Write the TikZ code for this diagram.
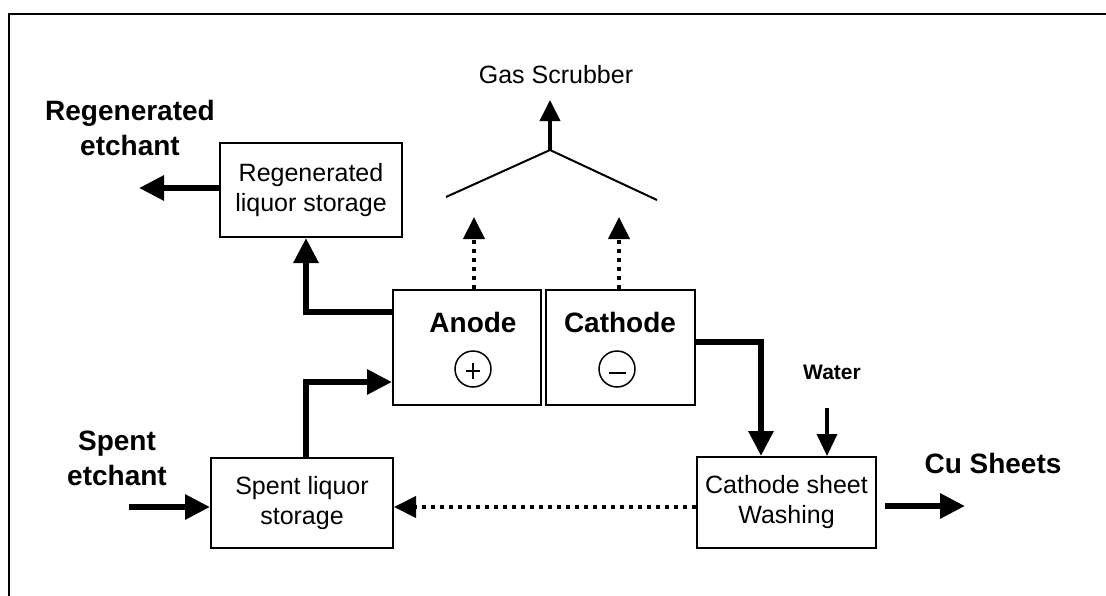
\documentclass[tikz,border=0pt]{standalone}
\usepackage{fontspec}
\setmainfont{Liberation Sans}
\usetikzlibrary{arrows.meta}
\begin{document}
\begin{tikzpicture}[x=1pt,y=-1pt,
  box/.style={draw, line width=2pt, rectangle, inner sep=0pt, align=center,
    font=\fontsize{25}{30}\selectfont},
  boldlbl/.style={inner sep=0pt, align=center, font=\bfseries\fontsize{28}{35}\selectfont},
  plainlbl/.style={inner sep=0pt, font=\fontsize{25}{30}\selectfont},
  smalllbl/.style={inner sep=0pt, font=\bfseries\fontsize{21}{25}\selectfont},
  thickarrow/.style={line width=6pt, -{Triangle[length=25pt,width=24pt]}},
  dotarrow/.style={line width=4pt, dash pattern=on 4.5pt off 4.5pt, -{Triangle[length=22pt,width=21pt]}},
  gasarrow/.style={line width=4pt, -{Triangle[length=21pt,width=20pt]}},
  waterarrow/.style={line width=3.5pt, -{Triangle[length=22pt,width=20pt]}},
  sign/.style={draw, circle, line width=1.5pt, minimum size=36pt, inner sep=0pt},
  signline/.style={line width=1.5pt},
  thinline/.style={line width=2pt}
]
\useasboundingbox (0,0) rectangle (1106,595);
% frame
\coordinate (fbl) at (9,600);
\coordinate (ftl) at (9,14);
\coordinate (ftr) at (1110,14);
\draw[thinline] (fbl) -- (ftl) -- (ftr);

% boxes
\node[box, minimum width=182pt, minimum height=94pt] (regen) at (311,190) {Regenerated\\liquor storage};
\node[box, minimum width=148pt, minimum height=115pt] (anode) at (467,347.5) {};
\node[box, minimum width=149pt, minimum height=115pt] (cathode) at (620.5,347.5) {};
\node[box, minimum width=182pt, minimum height=90pt] (spent) at (302,503) {Spent liquor\\storage};
\node[box, minimum width=179pt, minimum height=91pt] (wash) at (786.5,502.5) {Cathode sheet\\Washing};

% inner labels
\node[boldlbl, anchor=base] (anodet) at (473,332) {Anode};
\node[boldlbl, anchor=base] (cathodet) at (620,332) {Cathode};
\node[sign] (plus) at (473,369) {};
\draw[signline] ([xshift=-7pt,yshift=-2pt]plus.center) -- ([xshift=7pt,yshift=-2pt]plus.center);
\draw[signline] ([yshift=6pt]plus.center) -- ([yshift=-10pt]plus.center);
\node[sign] (minus) at (617,369) {};
\draw[signline] ([xshift=-8.5pt,yshift=-4pt]minus.center) -- ([xshift=8.5pt,yshift=-4pt]minus.center);

% outside labels
\node[boldlbl] (regenlbl) at (130,128) {Regenerated\\etchant};
\node[boldlbl] (spentlbl) at (117,458) {Spent\\etchant};
\node[plainlbl, anchor=base] (gaslbl) at (556,83) {Gas Scrubber};
\node[smalllbl, anchor=base] (waterlbl) at (832,379) {Water};
\node[boldlbl, anchor=base] (culbl) at (993,473) {Cu Sheets};

% regenerated out
\coordinate (regout) at (139,188);
\draw[thickarrow] (regen.west |- regout) -- (regout);
% anode -> regen
\coordinate (r1) at (306,312);
\draw[thickarrow] (r1 -| anode.west) -- (r1) -- (r1 |- regen.south);
% spent -> anode
\coordinate (s1) at (306,382);
\draw[thickarrow] (s1 |- spent.north) -- (s1) -- (s1 -| anode.west);
% spent etchant in
\coordinate (sin) at (129,507);
\draw[thickarrow] (sin) -- (sin -| spent.west);
% wash -> spent (dotted)
\draw[dotarrow] (wash.west |- sin) -- (sin -| spent.east);
% cathode -> wash
\coordinate (c1) at (761,342);
\draw[thickarrow] (c1 -| cathode.east) -- (c1) -- (c1 |- wash.north);
% water
\coordinate (w1) at (827,408);
\draw[waterarrow] (w1) -- (w1 |- wash.north);
% Cu out
\coordinate (cu1) at (885,506);
\coordinate (cu2) at (965,506);
\draw[thickarrow] (cu1) -- (cu2);
% gas dotted arrows
\coordinate (d1) at (474,217);
\coordinate (d2) at (619,217);
\draw[dotarrow] (d1 |- anode.north) -- (d1);
\draw[dotarrow] (d2 |- cathode.north) -- (d2);
% hood
\coordinate (vl) at (446,197);
\coordinate (apex) at (550,150);
\coordinate (vr) at (657,200);
\coordinate (gtip) at (550,100);
\draw[thinline] (vl) -- (apex) -- (vr);
\draw[gasarrow] (apex) -- (gtip);
\end{tikzpicture}
\end{document}
